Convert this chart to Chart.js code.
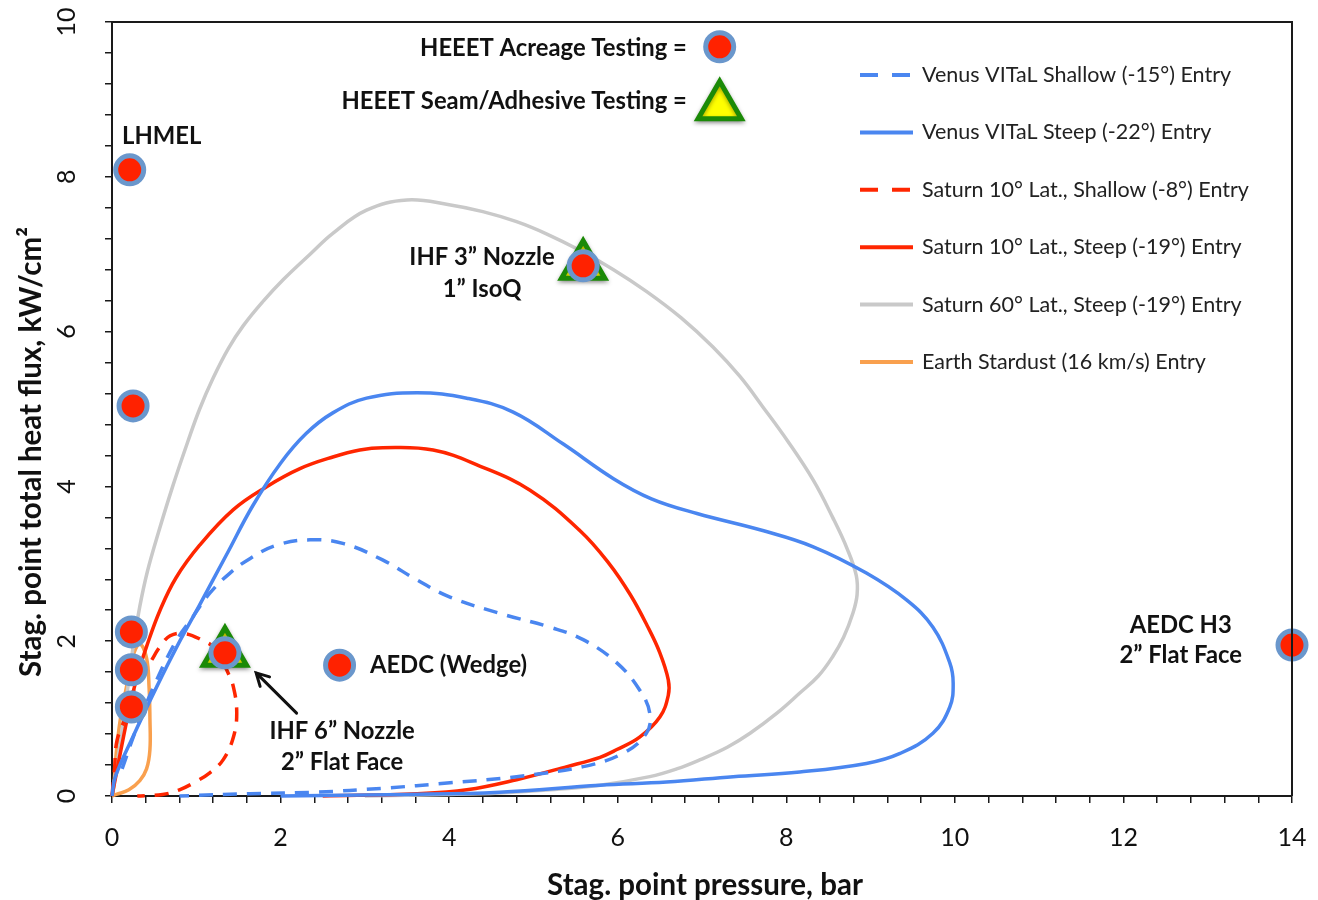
<!DOCTYPE html>
<html>
<head>
<meta charset="utf-8">
<title>Stagnation point heat flux vs pressure</title>
<script src="https://cdn.jsdelivr.net/npm/chart.js@4.4.1/dist/chart.umd.min.js"></script>
<style>
  html, body { margin: 0; padding: 0; background: #fff; }
  canvas { display: block; }
</style>
</head>
<body>
<canvas id="heatflux__canvas" width="1318" height="900"></canvas>
<script>
// Entry trajectories, each point is [pressure (bar), heat flux (kW/cm2)]
const venusShallow = [
  [0.12, 0.35], [0.3, 0.9], [0.53, 1.5], [0.77, 2.02], [0.95, 2.3], [1.16, 2.62], [1.4, 2.88],
  [1.64, 3.07], [1.95, 3.24], [2.35, 3.31], [2.75, 3.26], [3.21, 3.05], [3.62, 2.79],
  [4.01, 2.57], [4.6, 2.36], [5.2, 2.18], [5.59, 2.02], [5.99, 1.72], [6.26, 1.37],
  [6.38, 1.07], [6.34, 0.81], [6.06, 0.55], [5.59, 0.38], [4.8, 0.25], [4.01, 0.17],
  [3.21, 0.1], [2.43, 0.05], [1.64, 0.03], [0.8, 0.0]
];
const venusSteep = [
  [0.0, 0.0], [0.04, 0.25], [0.25, 0.77], [0.53, 1.41], [0.77, 1.93], [1.04, 2.47], [1.36, 3.12],
  [1.67, 3.75], [2.0, 4.3], [2.3, 4.68], [2.62, 4.95], [3.02, 5.14], [3.62, 5.21], [4.21, 5.14],
  [4.76, 4.96], [5.35, 4.55], [5.95, 4.1], [6.4, 3.84], [6.94, 3.65], [7.72, 3.43],
  [8.32, 3.22], [8.95, 2.88], [9.43, 2.53], [9.74, 2.18], [9.94, 1.72], [9.98, 1.46],
  [9.94, 1.15], [9.74, 0.81], [9.35, 0.55], [8.95, 0.42], [8.16, 0.31], [7.37, 0.25],
  [6.58, 0.18], [5.79, 0.14], [4.6, 0.05], [3.5, 0.02], [2.0, 0.0]
];
const saturn10Shallow = [
  [0.0, 0.0], [0.03, 0.35], [0.06, 0.72], [0.18, 1.07], [0.29, 1.46], [0.45, 1.72], [0.57, 1.93],
  [0.69, 2.07], [0.85, 2.1], [1.04, 2.03], [1.24, 1.89], [1.36, 1.63], [1.44, 1.41],
  [1.48, 1.07], [1.44, 0.76], [1.32, 0.47], [1.16, 0.3], [0.97, 0.17], [0.8, 0.08],
  [0.6, 0.02], [0.3, 0.0]
];
const saturn10Steep = [
  [0.0, 0.0], [0.08, 0.45], [0.2, 1.1], [0.3, 1.55], [0.41, 1.93], [0.57, 2.4], [0.76, 2.82],
  [1.04, 3.24], [1.44, 3.7], [1.84, 4.0], [2.23, 4.23], [2.62, 4.38], [2.94, 4.47], [3.21, 4.5],
  [3.81, 4.47], [4.37, 4.26], [4.96, 3.95], [5.55, 3.43], [5.9, 3.0], [6.15, 2.6],
  [6.35, 2.2], [6.5, 1.85], [6.6, 1.5], [6.6, 1.3], [6.5, 1.02], [6.26, 0.76], [5.99, 0.6],
  [5.79, 0.5], [5.4, 0.38], [4.8, 0.21], [4.21, 0.08], [3.62, 0.03], [2.5, 0.0]
];
const saturn60Steep = [
  [0.0, 0.0], [0.1, 0.7], [0.2, 1.5], [0.26, 2.0], [0.33, 2.45], [0.42, 2.9], [0.55, 3.4],
  [0.72, 4.0], [0.9, 4.58], [1.04, 5.0], [1.2, 5.4], [1.38, 5.78], [1.56, 6.08], [1.8, 6.4],
  [2.03, 6.67], [2.35, 7.0], [2.62, 7.27], [3.02, 7.57], [3.5, 7.7], [4.0, 7.64], [4.4, 7.55],
  [4.8, 7.42], [5.16, 7.26], [5.55, 7.05], [5.95, 6.8], [6.34, 6.52], [6.75, 6.18], [7.13, 5.8],
  [7.45, 5.42], [7.72, 5.03], [8.02, 4.58], [8.32, 4.08], [8.55, 3.6], [8.72, 3.2],
  [8.83, 2.85], [8.84, 2.6], [8.79, 2.36], [8.68, 2.05], [8.55, 1.8], [8.38, 1.55],
  [8.16, 1.33], [7.9, 1.08], [7.57, 0.81], [7.3, 0.63], [6.98, 0.47], [6.7, 0.35],
  [6.38, 0.25], [5.79, 0.14], [5.2, 0.08], [4.6, 0.04], [4.0, 0.02], [3.0, 0.0]
];
const stardust = [
  [0.0, 0.0], [0.02, 0.12], [0.05, 0.55], [0.1, 1.0], [0.17, 1.4], [0.24, 1.78], [0.33, 1.96],
  [0.41, 1.78], [0.44, 1.4], [0.45, 1.0], [0.45, 0.6], [0.41, 0.35], [0.33, 0.2], [0.2, 0.08],
  [0.05, 0.02], [0.0, 0.0]
];

const curveNames = [
  "Venus VITaL Shallow (-15°) Entry",
  "Venus VITaL Steep (-22°) Entry",
  "Saturn 10° Lat., Shallow (-8°) Entry",
  "Saturn 10° Lat., Steep (-19°) Entry",
  "Saturn 60° Lat., Steep (-19°) Entry",
  "Earth Stardust (16 km/s) Entry"
];

// HEEET test points
const acreagePressure = [0.21, 0.25, 0.23, 0.23, 0.23, 1.34, 2.7, 5.59, 14.0];
const acreageFlux = [8.09, 5.04, 2.12, 1.63, 1.15, 1.85, 1.69, 6.85, 1.95];
const seamPressure = [1.34, 5.59];
const seamFlux = [1.85, 6.85];

const xMajorStep = 2;
const yMajorStep = 2;

const BLUE = "#4a86f0";
const RED = "#ff2600";
const GRAY = "#c9c9c9";
const ORANGE = "#f9a04e";
const RING = "#6a97cc";
const DOT = "#ff2200";
const TRI_EDGE = "#1b8a07";
const TRI_FILL = "#ffff00";
const INK = "#111111";
const FONT = "Lato, 'Open Sans', sans-serif";

// annotation text, anchored in data units
const notes = [
  { text: "LHMEL", x: 0.12, y: 8.52, align: "left" },
  { text: "HEEET Acreage Testing =", x: 6.82, y: 9.66, align: "right" },
  { text: "HEEET Seam/Adhesive Testing =", x: 6.82, y: 8.97, align: "right" },
  { text: "IHF 3\u201D Nozzle", x: 4.39, y: 6.96, align: "center" },
  { text: "1\u201D IsoQ", x: 4.39, y: 6.55, align: "center" },
  { text: "AEDC (Wedge)", x: 3.06, y: 1.69, align: "left" },
  { text: "IHF 6\u201D Nozzle", x: 2.73, y: 0.83, align: "center" },
  { text: "2\u201D Flat Face", x: 2.73, y: 0.43, align: "center" },
  { text: "AEDC H3", x: 12.68, y: 2.21, align: "center" },
  { text: "2\u201D Flat Face", x: 12.68, y: 1.82, align: "center" }
];
const keyCircle = { x: 7.21, y: 9.68 };
const keyTriangle = { x: 7.21, y: 8.91 };
const arrowTail = { x: 2.19, y: 1.07 };
const arrowTip = { x: 1.71, y: 1.59 };

Chart.defaults.font.family = FONT;
Chart.defaults.color = INK;

function toPoints(pairs) {
  return pairs.map(([x, y]) => ({ x, y }));
}

function zipPoints(xs, ys) {
  return xs.map((x, i) => ({ x, y: ys[i] }));
}

function curve(label, pairs, color, dashed) {
  return {
    label,
    data: toPoints(pairs),
    showLine: true,
    borderColor: color,
    backgroundColor: color,
    borderWidth: 3.5,
    borderDash: dashed ? [14, 10] : [],
    pointRadius: 0,
    pointHoverRadius: 0,
    tension: 0.4,
    fill: false,
    clip: false
  };
}

function isMajor(v, step) {
  const r = v / step;
  return Math.abs(r - Math.round(r)) < 1e-6;
}

// keep the plot box fixed: no extra room for overhanging tick labels
function noOverhang(scale) {
  scale.paddingTop = 0;
  scale.paddingBottom = 0;
  scale.paddingLeft = 0;
  scale.paddingRight = 0;
}

function drawTriangle(ctx, x, y, r) {
  ctx.beginPath();
  for (let k = 0; k < 3; k++) {
    const a = (k * 2 * Math.PI) / 3;
    const px = x + Math.sin(a) * r;
    const py = y - Math.cos(a) * r;
    if (k === 0) ctx.moveTo(px, py);
    else ctx.lineTo(px, py);
  }
  ctx.closePath();
}

const extrasPlugin = {
  id: "extras",
  beforeDatasetDraw(chart, args) {
    if (args.index === 1) {
      const ctx = chart.ctx;
      ctx.save();
      ctx.shadowColor = "rgba(0,0,0,0.35)";
      ctx.shadowBlur = 4;
      ctx.shadowOffsetY = 2;
    }
  },
  afterDatasetDraw(chart, args) {
    if (args.index === 1) chart.ctx.restore();
  },
  afterDraw(chart) {
    const ctx = chart.ctx;
    const xs = chart.scales.x;
    const ys = chart.scales.y;
    const area = chart.chartArea;

    ctx.save();
    // box top and right edges
    ctx.strokeStyle = "#1a1a1a";
    ctx.lineWidth = 2;
    ctx.beginPath();
    ctx.moveTo(area.left, area.top);
    ctx.lineTo(area.right, area.top);
    ctx.lineTo(area.right, area.bottom);
    ctx.stroke();

    // annotation labels
    ctx.fillStyle = INK;
    ctx.font = "bold 23.8px " + FONT;
    ctx.textBaseline = "middle";
    notes.forEach((n) => {
      ctx.textAlign = n.align;
      ctx.fillText(n.text, xs.getPixelForValue(n.x), ys.getPixelForValue(n.y));
    });

    // key symbols beside the two HEEET labels
    const cx = xs.getPixelForValue(keyCircle.x);
    const cy = ys.getPixelForValue(keyCircle.y);
    ctx.beginPath();
    ctx.arc(cx, cy, 14, 0, Math.PI * 2);
    ctx.fillStyle = DOT;
    ctx.fill();
    ctx.lineWidth = 5;
    ctx.strokeStyle = RING;
    ctx.stroke();

    const tx = xs.getPixelForValue(keyTriangle.x);
    const ty = ys.getPixelForValue(keyTriangle.y);
    ctx.save();
    ctx.shadowColor = "rgba(0,0,0,0.35)";
    ctx.shadowBlur = 4;
    ctx.shadowOffsetY = 2;
    drawTriangle(ctx, tx, ty, 25);
    ctx.fillStyle = TRI_FILL;
    ctx.fill();
    ctx.lineWidth = 5;
    ctx.strokeStyle = TRI_EDGE;
    ctx.stroke();
    ctx.restore();

    // arrow pointing at the IHF 6" test point
    const ax0 = xs.getPixelForValue(arrowTail.x);
    const ay0 = ys.getPixelForValue(arrowTail.y);
    const ax1 = xs.getPixelForValue(arrowTip.x);
    const ay1 = ys.getPixelForValue(arrowTip.y);
    const ang = Math.atan2(ay1 - ay0, ax1 - ax0);
    ctx.strokeStyle = INK;
    ctx.lineWidth = 3;
    ctx.lineCap = "round";
    ctx.beginPath();
    ctx.moveTo(ax0, ay0);
    ctx.lineTo(ax1, ay1);
    ctx.moveTo(ax1 - 14 * Math.cos(ang - 0.5), ay1 - 14 * Math.sin(ang - 0.5));
    ctx.lineTo(ax1, ay1);
    ctx.lineTo(ax1 - 14 * Math.cos(ang + 0.5), ay1 - 14 * Math.sin(ang + 0.5));
    ctx.stroke();

    // legend for the trajectory curves
    ctx.font = "21.5px " + FONT;
    ctx.textAlign = "left";
    ctx.lineCap = "butt";
    const lx = area.right - 432;
    chart.data.datasets.slice(2).forEach((ds, i) => {
      const ly = 75 + i * 57.4;
      ctx.strokeStyle = ds.borderColor;
      ctx.lineWidth = 4;
      ctx.setLineDash(ds.borderDash.length ? [18, 14] : []);
      ctx.beginPath();
      ctx.moveTo(lx, ly);
      ctx.lineTo(lx + 53, ly);
      ctx.stroke();
      ctx.setLineDash([]);
      ctx.fillStyle = "#222";
      ctx.fillText(ds.label, lx + 62, ly);
    });

    // axis titles
    ctx.fillStyle = INK;
    ctx.font = "bold 29.5px " + FONT;
    ctx.textAlign = "center";
    ctx.fillText("Stag. point pressure, bar", (area.left + area.right) / 2 + 3, 885);
    ctx.translate(31, 452);
    ctx.rotate(-Math.PI / 2);
    ctx.fillText("Stag. point total heat flux, kW/cm\u00B2", 0, 0);
    ctx.restore();
  }
};

const ctx = document.getElementById("heatflux__canvas").getContext("2d");
const chart = new Chart(ctx, {
  type: "scatter",
  data: {
    datasets: [
      {
        label: "HEEET Acreage Testing",
        data: zipPoints(acreagePressure, acreageFlux),
        pointStyle: "circle",
        pointRadius: 14,
        pointHoverRadius: 14,
        pointBorderWidth: 5,
        pointBackgroundColor: DOT,
        pointBorderColor: RING,
        clip: false
      },
      {
        label: "HEEET Seam/Adhesive Testing",
        data: zipPoints(seamPressure, seamFlux),
        pointStyle: "triangle",
        pointRadius: 25,
        pointHoverRadius: 25,
        pointBorderWidth: 5,
        pointBackgroundColor: TRI_FILL,
        pointBorderColor: TRI_EDGE,
        clip: false
      },
      curve(curveNames[0], venusShallow, BLUE, true),
      curve(curveNames[1], venusSteep, BLUE, false),
      curve(curveNames[2], saturn10Shallow, RED, true),
      curve(curveNames[3], saturn10Steep, RED, false),
      curve(curveNames[4], saturn60Steep, GRAY, false),
      curve(curveNames[5], stardust, ORANGE, false)
    ]
  },
  options: {
    responsive: false,
    devicePixelRatio: 1,
    animation: false,
    events: [],
    layout: { autoPadding: false, padding: { top: 22, right: 26, left: 0, bottom: 0 } },
    plugins: {
      legend: { display: false },
      tooltip: { enabled: false }
    },
    scales: {
      x: {
        type: "linear",
        min: 0,
        max: 14,
        afterFit(scale) {
          scale.height = 104;
          noOverhang(scale);
        },
        grid: { display: true, drawOnChartArea: false, drawTicks: true, tickLength: 7, color: "#1a1a1a", lineWidth: 1.5 },
        border: { display: true, color: "#1a1a1a", width: 2 },
        ticks: {
          stepSize: 0.4,
          autoSkip: false,
          maxRotation: 0,
          padding: 20,
          font: { size: 25 },
          color: INK,
          callback: (v) => (isMajor(v, xMajorStep) ? Math.round(v) : "")
        }
      },
      y: {
        type: "linear",
        min: 0,
        max: 10,
        afterFit(scale) {
          scale.width = 112;
          noOverhang(scale);
        },
        grid: { display: true, drawOnChartArea: false, drawTicks: true, tickLength: 7, color: "#1a1a1a", lineWidth: 1.5 },
        border: { display: true, color: "#1a1a1a", width: 2 },
        ticks: {
          stepSize: 0.4,
          autoSkip: false,
          minRotation: 90,
          maxRotation: 90,
          crossAlign: "center",
          padding: 24,
          font: { size: 25 },
          color: INK,
          callback: (v) => (isMajor(v, yMajorStep) ? Math.round(v) : "")
        }
      }
    }
  },
  plugins: [extrasPlugin]
});
</script>
</body>
</html>
